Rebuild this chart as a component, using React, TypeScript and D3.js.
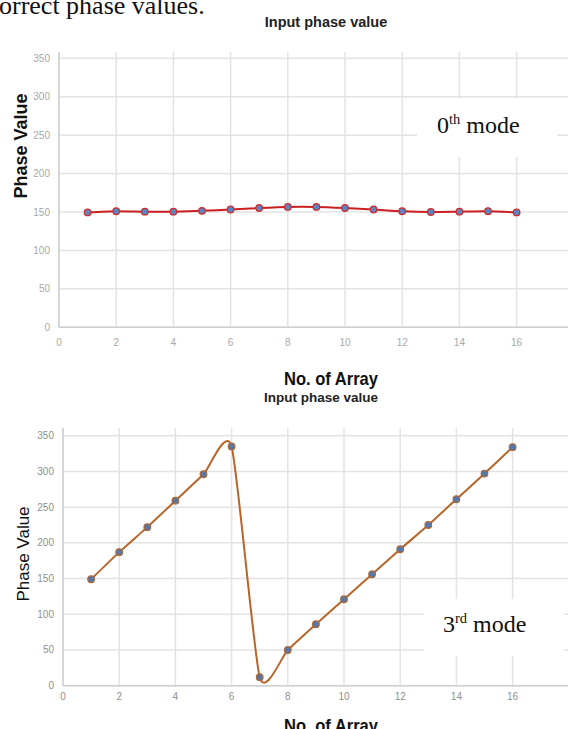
import React from "react";
import * as d3 from "d3";

const arrayNo = [1, 2, 3, 4, 5, 6, 7, 8, 9, 10, 11, 12, 13, 14, 15, 16];
const phase0th = [149.5, 151, 150.5, 150.5, 151.5, 153.3, 155.2, 156.6, 156.6, 155.2, 153.3, 151, 150, 150.5, 151, 149.5];
const phase3rd = [149, 187, 222, 259, 296, 335, 12, 50, 86, 121, 156, 191, 225, 261, 297, 334];
const xTicks = [0, 2, 4, 6, 8, 10, 12, 14, 16, 18];
const yTicks = [0, 50, 100, 150, 200, 250, 300, 350];

const W = 568;
const H = 729;
const sans = "'Liberation Sans', Arial, sans-serif";
const serif = "'Liberation Serif', 'Times New Roman', serif";

type PanelProps = {
  values: number[];
  x0: number;
  xStep: number;
  yBottom: number;
  yTop350: number;
  plotTop: number;
  title: string;
  titleX: number;
  titleY: number;
  titleSize: number;
  tickColor: string;
  yLabelEnd: number;
  xLabelY: number;
  xLabelMax: number;
  xTitleX: number;
  xTitleY: number;
  yTitleX: number;
  yTitleY: number;
  yTitleWeight: string;
  lineColor: string;
  markerFill: string;
  markerStroke: string;
  modeBox: [number, number, number, number];
  modeX: number;
  modeY: number;
  modeNum: string;
  modeSup: string;
};

const Panel = (p: PanelProps) => {
  const x = d3.scaleLinear().domain([0, 18]).range([p.x0, p.x0 + 18 * p.xStep]);
  const y = d3.scaleLinear().domain([0, 350]).range([p.yBottom, p.yTop350]);
  // excel-like smoothed line
  const line = d3
    .line<number>()
    .x((_, i) => x(arrayNo[i]))
    .y((v) => y(v))
    .curve(d3.curveCardinal.tension(0.4));
  const [bx, by, bw, bh] = p.modeBox;

  return (
    <g>
      <text x={p.titleX} y={p.titleY} textAnchor="middle" fontFamily={sans} fontWeight="bold" fontSize={p.titleSize} fill="#222">
        {p.title}
      </text>
      {yTicks.map((t) => (
        <line key={"h" + t} x1={p.x0} x2={W} y1={y(t)} y2={y(t)} stroke="#e3e3e3" strokeWidth={1.5} />
      ))}
      {xTicks.map((t) => (
        <line key={"v" + t} x1={x(t)} x2={x(t)} y1={p.plotTop} y2={p.yBottom} stroke="#e3e3e3" strokeWidth={1.5} />
      ))}
      <line x1={p.x0} x2={p.x0} y1={p.plotTop} y2={p.yBottom} stroke="#cfcfcf" strokeWidth={1.5} />
      <line x1={p.x0} x2={W} y1={p.yBottom} y2={p.yBottom} stroke="#cfcfcf" strokeWidth={1.5} />
      {yTicks.map((t) => (
        <text key={"yl" + t} x={p.yLabelEnd} y={y(t) + 3.5} textAnchor="end" fontFamily={sans} fontSize={10} fill={p.tickColor}>
          {t}
        </text>
      ))}
      {xTicks
        .filter((t) => x(t) <= p.xLabelMax)
        .map((t) => (
          <text key={"xl" + t} x={x(t)} y={p.xLabelY} textAnchor="middle" fontFamily={sans} fontSize={10} fill={p.tickColor}>
            {t}
          </text>
        ))}
      <path d={line(p.values) || ""} fill="none" stroke={p.lineColor} strokeWidth={2} />
      {p.values.map((v, i) => (
        <circle key={"m" + i} cx={x(arrayNo[i])} cy={y(v)} r={3.3} fill={p.markerFill} stroke={p.markerStroke} strokeWidth={1.2} />
      ))}
      <rect x={bx} y={by} width={bw} height={bh} fill="#fff" />
      <text x={p.modeX} y={p.modeY} fontFamily={serif} fontSize={24} fill="#111">
        {p.modeNum}
        <tspan fontSize={14.5} dy={-9}>{p.modeSup}</tspan>
        <tspan dy={9}> mode</tspan>
      </text>
      <text
        x={p.xTitleX}
        y={p.xTitleY}
        textAnchor="middle"
        fontFamily={sans}
        fontWeight="bold"
        fontSize={19}
        textLength={94}
        lengthAdjust="spacingAndGlyphs"
        fill="#111"
      >
        No. of Array
      </text>
      <text
        transform={`translate(${p.yTitleX},${p.yTitleY}) rotate(-90)`}
        textAnchor="middle"
        fontFamily={sans}
        fontWeight={p.yTitleWeight}
        fontSize={p.yTitleWeight === "bold" ? 18 : 17}
        fill="#111"
      >
        Phase Value
      </text>
    </g>
  );
};

const App = () => {
  return (
    <svg width={W} height={H} style={{ position: "absolute", left: 0, top: 0, background: "#fff" }}>
      <rect width={W} height={H} fill="#fff" />
      <text x={-1} y={14} fontFamily={serif} fontSize={26} fill="#111">
        orrect phase values.
      </text>
      <Panel
        values={phase0th}
        x0={59}
        xStep={28.6}
        yBottom={327.3}
        yTop350={58.3}
        plotTop={52}
        title="Input phase value"
        titleX={326}
        titleY={27}
        titleSize={14.5}
        tickColor="#a8a8a8"
        yLabelEnd={50}
        xLabelY={346}
        xLabelMax={560}
        xTitleX={331}
        xTitleY={385}
        yTitleX={27}
        yTitleY={146}
        yTitleWeight="bold"
        lineColor="#cc1f1f"
        markerFill="#5b84c4"
        markerStroke="#d02a2a"
        modeBox={[417, 99, 140, 58]}
        modeX={437}
        modeY={133}
        modeNum="0"
        modeSup="th"
      />
      <Panel
        values={phase3rd}
        x0={63}
        xStep={28.1}
        yBottom={685.7}
        yTop350={435.7}
        plotTop={428}
        title="Input phase value"
        titleX={321}
        titleY={402}
        titleSize={13.5}
        tickColor="#8f8f8f"
        yLabelEnd={54}
        xLabelY={700}
        xLabelMax={560}
        xTitleX={331}
        xTitleY={732}
        yTitleX={29}
        yTitleY={554}
        yTitleWeight="normal"
        lineColor="#b8652a"
        markerFill="#5577aa"
        markerStroke="#a8683a"
        modeBox={[424, 599, 140, 57]}
        modeX={443}
        modeY={632}
        modeNum="3"
        modeSup="rd"
      />
    </svg>
  );
};

export default App;
